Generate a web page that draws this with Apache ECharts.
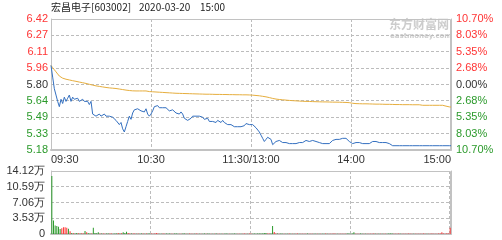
<!DOCTYPE html>
<html><head><meta charset="utf-8">
<script src="https://cdn.jsdelivr.net/npm/echarts@6/dist/echarts.min.js"></script>
<style>html,body{margin:0;padding:0;background:#fff}#c{width:502px;height:240px}</style>
</head><body><div id="c"></div>
<script>
const stockName = '宏昌电子[603002]';
const tradeDate = '2020-03-20';
const tradeTime = '15:00';
const watermarkCn = '东方财富网';
const watermarkEn = 'eastmoney.com';
const prevClose = 5.80;
const pctRange = 10.70;
const volMax = 141200;
const timeLabels = ['09:30', '10:30', '11:30/13:00', '14:00', '15:00'];
const priceTickLabels = ['5.18', '5.33', '5.49', '5.64', '5.80', '5.96', '6.11', '6.27', '6.42'];
const pctTickLabels = ['10.70%', '8.03%', '5.35%', '2.68%', '0.00%', '2.68%', '5.35%', '8.03%', '10.70%'];
const volTickLabels = ['0', '3.53万', '7.06万', '10.59万', '14.12万'];

const price = [
  5.98,5.87,5.76,5.70,5.64,5.59,5.66,5.62,5.68,5.64,
  5.67,5.70,5.64,5.68,5.66,5.65,5.67,5.64,5.65,5.66,
  5.64,5.65,5.64,5.61,5.64,5.52,5.52,5.50,5.51,5.52,
  5.50,5.51,5.52,5.50,5.49,5.50,5.51,5.49,5.48,5.46,
  5.45,5.42,5.44,5.38,5.35,5.40,5.45,5.50,5.47,5.53,
  5.56,5.55,5.57,5.56,5.55,5.56,5.54,5.57,5.52,5.50,
  5.52,5.55,5.59,5.60,5.60,5.58,5.58,5.58,5.59,5.58,
  5.57,5.55,5.55,5.56,5.55,5.53,5.52,5.52,5.54,5.52,
  5.48,5.48,5.46,5.46,5.48,5.50,5.49,5.50,5.51,5.50,
  5.51,5.49,5.47,5.48,5.48,5.45,5.46,5.45,5.45,5.44,
  5.46,5.47,5.44,5.46,5.44,5.43,5.42,5.43,5.42,5.41,
  5.40,5.39,5.40,5.40,5.40,5.41,5.41,5.43,5.42,5.42,
  5.42,5.42,5.41,5.39,5.38,5.35,5.32,5.29,5.26,5.28,
  5.30,5.31,5.28,5.23,5.24,5.26,5.25,5.27,5.26,5.25,
  5.26,5.25,5.24,5.24,5.24,5.24,5.24,5.24,5.25,5.25,
  5.25,5.25,5.26,5.27,5.26,5.26,5.27,5.27,5.27,5.26,
  5.26,5.25,5.25,5.24,5.24,5.24,5.24,5.24,5.25,5.27,
  5.28,5.28,5.28,5.28,5.28,5.29,5.29,5.29,5.28,5.26,
  5.25,5.24,5.24,5.25,5.25,5.25,5.25,5.24,5.24,5.24,
  5.24,5.24,5.25,5.26,5.26,5.26,5.26,5.25,5.25,5.25,
  5.25,5.25,5.25,5.24,5.24,5.22,5.22,5.22,5.22,5.22,
  5.22,5.22,5.22,5.22,5.22,5.22,5.22,5.22,5.22,5.22,
  5.22,5.22,5.22,5.22,5.22,5.22,5.22,5.22,5.22,5.22,
  5.22,5.22,5.22,5.22,5.22,5.22,5.22,5.22,5.22,5.22,
  5.22
];

const avgPrice = [
  5.98,5.96,5.94,5.92,5.90,5.88,5.865,5.86,5.852,5.85,
  5.846,5.843,5.84,5.836,5.833,5.83,5.827,5.823,5.82,5.817,
  5.813,5.81,5.806,5.802,5.798,5.794,5.79,5.787,5.784,5.782,
  5.78,5.777,5.775,5.772,5.77,5.768,5.767,5.765,5.764,5.762,
  5.76,5.757,5.755,5.752,5.749,5.747,5.745,5.743,5.741,5.74,
  5.739,5.739,5.739,5.739,5.739,5.739,5.739,5.739,5.733,5.733,
  5.732,5.731,5.73,5.729,5.728,5.727,5.726,5.725,5.724,5.723,
  5.722,5.721,5.72,5.719,5.718,5.717,5.717,5.716,5.716,5.715,
  5.715,5.714,5.714,5.713,5.713,5.712,5.712,5.711,5.711,5.71,
  5.71,5.709,5.709,5.708,5.708,5.708,5.707,5.707,5.707,5.706,
  5.706,5.706,5.705,5.705,5.705,5.705,5.704,5.704,5.704,5.704,
  5.703,5.703,5.703,5.703,5.702,5.702,5.702,5.702,5.702,5.701,
  5.70,5.699,5.697,5.696,5.695,5.693,5.691,5.688,5.686,5.683,
  5.68,5.676,5.672,5.668,5.664,5.662,5.66,5.658,5.657,5.655,
  5.654,5.652,5.651,5.649,5.648,5.647,5.646,5.645,5.644,5.643,
  5.642,5.641,5.64,5.64,5.639,5.639,5.638,5.638,5.637,5.637,
  5.636,5.636,5.636,5.635,5.635,5.635,5.634,5.634,5.634,5.633,
  5.633,5.633,5.632,5.632,5.631,5.631,5.631,5.63,5.63,5.628,
  5.625,5.622,5.62,5.619,5.619,5.618,5.618,5.617,5.617,5.617,
  5.616,5.616,5.615,5.615,5.615,5.614,5.614,5.614,5.613,5.613,
  5.613,5.612,5.612,5.612,5.611,5.611,5.611,5.61,5.61,5.61,
  5.61,5.609,5.609,5.609,5.609,5.609,5.608,5.608,5.608,5.608,
  5.608,5.608,5.603,5.603,5.603,5.603,5.603,5.603,5.603,5.603,
  5.603,5.603,5.603,5.603,5.603,5.603,5.595,5.595,5.588,5.588,
  5.586
];

const volume = [
  130000,30000,19000,18000,16000,11000,13000,15000,15000,14000,
  12000,6000,2500,1800,1200,2000,1500,1000,1800,1200,
  6700,3700,1500,1000,1200,14200,2500,1500,3700,1200,
  900,1100,800,1300,1000,900,1200,800,1000,1400,
  2000,1200,1500,3700,2000,5000,2500,1200,900,1100,
  1300,800,1000,700,1200,900,600,1100,1400,900,
  1000,800,1200,2000,900,700,800,1000,600,900,
  700,1100,800,600,900,1000,700,800,600,900,
  1200,800,700,900,600,800,700,1000,600,700,
  800,600,900,700,1100,600,700,800,600,900,
  700,600,800,700,600,900,700,600,800,700,
  900,700,600,800,700,600,900,700,800,1000,
  900,700,1000,800,1200,900,1100,1000,2200,2000,
  1000,900,1100,17900,4400,1200,900,800,1000,700,
  800,600,700,900,600,800,700,600,900,700,
  600,800,700,600,900,700,600,800,700,600,
  700,600,800,700,600,900,700,600,800,700,
  900,700,600,800,700,600,800,700,900,1000,
  800,900,4000,700,800,600,900,700,600,800,
  700,600,800,700,900,600,700,800,600,700,
  800,700,600,900,1000,1200,800,700,600,900,
  700,600,800,700,600,900,700,600,800,700,
  600,700,800,600,900,700,600,800,700,900,
  700,800,600,900,1200,4000,1000,800,1500,1200,
  14200
];

// u = up minute (red bar), d = down minute (green bar)
const volDirection = [
  'dddddduuuu','dududduduu','dudduddddu','duudduuddd','ududdduudu',
  'ududdududd','uuuuudduud','dduuddduud','duduuuduud','udduddudud',
  'uududddudd','dduuduuudu','uddddddddd','uudduududd','uddududuud',
  'uuuuduuudd','ududduduuu','uuduuuuudd','ddduuuddud','uuuuududud',
  'uudddduuuu','duuuuuuudu','uuuuuuduuu','uuuuuuuuuu','u'
].join('');

const red = '#ff3434', green = '#2b9a2b', dark = '#333333';
const gridColor = '#bcbcbc';
const gridLine = { color: gridColor, type: [3, 2], width: 1 };
const borderColor = '#c2c2c2';
const pct = p => (p / prevClose - 1) * 100;
const step = pctRange / 4;
const tickIdx = v => Math.round((v + pctRange) / step);
const labelColor = v => Math.abs(v) < 1e-6 ? dark : (v > 0 ? red : green);
const minuteIdx = volume.map((_, i) => i);
const font = 'Liberation Sans';

const baseGraphics = [
  { id: 'b0', type: 'rect', shape: { x: 51.5, y: 19.5, width: 399, height: 130 }, style: { fill: 'none', stroke: borderColor, lineWidth: 1 }, silent: true, z: 1 },
  { id: 'b1', type: 'rect', shape: { x: 51.5, y: 171.5, width: 399, height: 62 }, style: { fill: 'none', stroke: borderColor, lineWidth: 1 }, silent: true, z: 1 },
  { id: 't0', type: 'text', left: 51, top: 2, style: { text: stockName, font: '10px "Noto Sans CJK SC"', fill: '#222' } },
  { id: 't1', type: 'text', left: 139, top: 2, style: { text: tradeDate, font: '10px "Noto Sans CJK SC"', fill: '#222' } },
  { id: 't2', type: 'text', left: 200, top: 2, style: { text: tradeTime, font: '10px "Noto Sans CJK SC"', fill: '#222' } },
  { id: 'w0', type: 'text', left: 389, top: 18, z: 0, style: { text: watermarkCn, font: 'bold 12px "Noto Sans CJK SC"', fill: '#cccccc' } },
  { id: 'w1', type: 'text', left: 390, top: 33, z: 0, style: { text: watermarkEn, font: 'bold 7px "DejaVu Sans"', fill: '#cccccc' } }
];

const chart = echarts.init(document.getElementById('c'), null, { renderer: 'canvas' });
chart.setOption({
  animation: false,
  backgroundColor: '#fff',
  textStyle: { fontFamily: font },
  grid: [
    { left: 51, top: 19, width: 400, height: 131, show: false },
    { left: 51, top: 171, width: 400, height: 63, show: false }
  ],
  xAxis: [
    {
      type: 'value', gridIndex: 0, min: 0, max: 240, interval: 60, position: 'bottom',
      axisLine: { show: true, onZero: false, lineStyle: { color: borderColor, width: 2 } },
      axisTick: { show: false },
      splitLine: { show: true, showMinLine: false, showMaxLine: false, lineStyle: gridLine },
      axisLabel: {
        margin: 4, fontSize: 11, color: dark, fontFamily: font,
        formatter: v => timeLabels[Math.round(v / 60)],
        alignMinLabel: 'left', alignMaxLabel: 'right'
      }
    },
    {
      type: 'category', gridIndex: 1, data: minuteIdx, boundaryGap: true,
      axisLine: { show: true, onZero: false, lineStyle: { color: borderColor, width: 2 } },
      axisTick: { show: false },
      axisLabel: { show: false },
      splitLine: { show: true, interval: (i) => i > 0 && i % 60 === 0, lineStyle: gridLine }
    }
  ],
  yAxis: [
    {
      type: 'value', gridIndex: 0, min: -pctRange, max: pctRange, interval: step,
      axisLine: { show: true, lineStyle: { color: borderColor, width: 1 } }, axisTick: { show: false },
      splitLine: { show: false },
      axisLabel: { margin: 3, fontSize: 11, fontFamily: font, formatter: v => priceTickLabels[tickIdx(v)], color: v => labelColor(v) }
    },
    {
      type: 'value', gridIndex: 0, position: 'right', min: -pctRange, max: pctRange, interval: step,
      axisLine: { show: true, lineStyle: { color: borderColor, width: 1 } }, axisTick: { show: false },
      splitLine: { show: false },
      axisLabel: { margin: 5, fontSize: 11, fontFamily: font, formatter: v => pctTickLabels[tickIdx(v)], color: v => labelColor(v) }
    },
    {
      type: 'value', gridIndex: 1, min: 0, max: volMax, interval: volMax / 4,
      axisLine: { show: true, lineStyle: { color: borderColor, width: 1 } }, axisTick: { show: false },
      splitLine: { show: false },
      axisLabel: { margin: 6, fontSize: 11, fontFamily: font, color: dark, padding: [4, 0, 0, 0],
        formatter: v => volTickLabels[Math.round(v / (volMax / 4))] }
    },
    {
      type: 'value', gridIndex: 1, position: 'right', min: 0, max: volMax, interval: volMax / 4,
      axisLine: { show: true, lineStyle: { color: borderColor, width: 1 } }, axisTick: { show: false },
      splitLine: { show: false }, axisLabel: { show: false }
    }
  ],
  series: [
    {
      name: '均价', type: 'line', xAxisIndex: 0, yAxisIndex: 1,
      data: avgPrice.map((p, i) => [i, pct(p)]),
      showSymbol: false, lineStyle: { color: '#e6ae3e', width: 1 }, z: 3
    },
    {
      name: '价格', type: 'line', xAxisIndex: 0, yAxisIndex: 0,
      data: price.map((p, i) => [i, pct(p)]),
      showSymbol: false, lineStyle: { color: '#3470c0', width: 1 }, z: 4
    },
    {
      name: '成交量', type: 'bar', xAxisIndex: 1, yAxisIndex: 2, barWidth: 1,
      data: volume.map((v, i) => ({ value: v, itemStyle: { color: volDirection[i] === 'u' ? red : green } }))
    }
  ],
  graphic: { elements: baseGraphics }
});

// Horizontal dashed guide lines at each inner tick, positioned through the axes' own scales
const x0 = chart.convertToPixel({ xAxisIndex: 0 }, 0);
const x1 = chart.convertToPixel({ xAxisIndex: 0 }, 240);
const crisp = y => Math.floor(y) + 0.5;
const guideLine = (id, y) => ({
  id, type: 'line', silent: true, z: 1,
  shape: { x1: x0, y1: crisp(y), x2: x1, y2: crisp(y) },
  style: { stroke: gridColor, lineWidth: 1, lineDash: [3, 2] }
});
const guides = [];
priceTickLabels.forEach((_, k) => {
  if (k === 0 || k === priceTickLabels.length - 1) return;
  guides.push(guideLine('gp' + k, chart.convertToPixel({ yAxisIndex: 0 }, -pctRange + k * step)));
});
volTickLabels.forEach((_, k) => {
  if (k === 0 || k === volTickLabels.length - 1) return;
  guides.push(guideLine('gv' + k, chart.convertToPixel({ yAxisIndex: 2 }, k * volMax / 4)));
});
chart.setOption({ graphic: { elements: baseGraphics.concat(guides) } });
</script>
</body></html>
